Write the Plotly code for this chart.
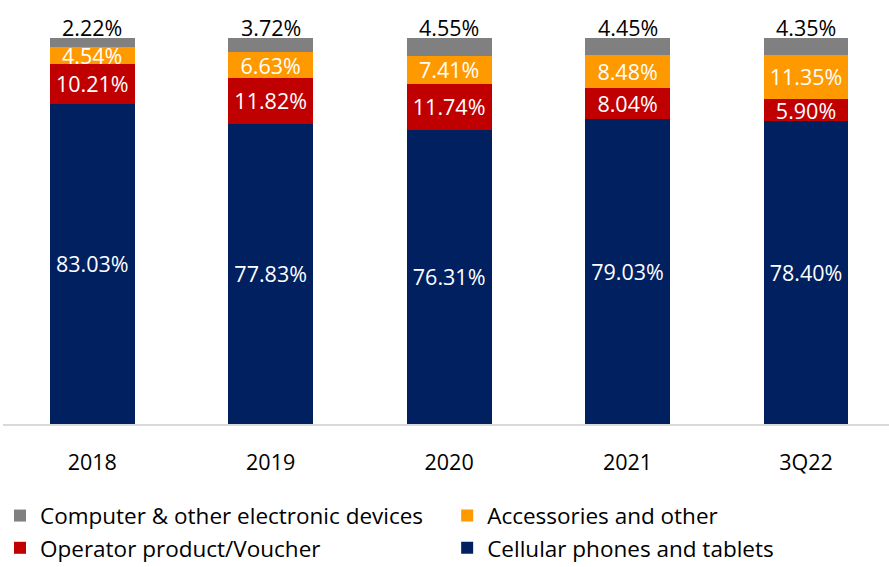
import plotly.graph_objects as go

categories = ["2018", "2019", "2020", "2021", "3Q22"]
cellular = [83.03, 77.83, 76.31, 79.03, 78.40]
operator = [10.21, 11.82, 11.74, 8.04, 5.90]
accessories = [4.54, 6.63, 7.41, 8.48, 11.35]
computer = [2.22, 3.72, 4.55, 4.45, 4.35]

xpos = list(range(len(categories)))
FONT = "Open Sans"
LSIZE = 21.5

def lbl(vals):
    return [f"{v:.2f}%" for v in vals]

fig = go.Figure()
series = [
    ("Cellular phones and tablets", cellular, "#002060", "white", "legend2"),
    ("Operator product/Voucher", operator, "#C00000", "white", "legend"),
    ("Accessories and other", accessories, "#FF9900", "white", "legend2"),
    ("Computer & other electronic devices", computer, "#808080", "black", "legend"),
]
for name, vals, color, tcolor, leg in series:
    is_top = name.startswith("Computer")
    fig.add_trace(go.Bar(
        x=xpos, y=vals, name=name, marker_color=color, marker_line_width=0,
        width=0.476, text=None if is_top else lbl(vals),
        textposition="none" if is_top else "inside",
        insidetextanchor="middle", constraintext="none",
        textfont=dict(color=tcolor, size=LSIZE, family=FONT),
        cliponaxis=False, hoverinfo="skip", legend=leg,
    ))

totals = [a + b + c + d for a, b, c, d in zip(cellular, operator, accessories, computer)]
for xi, tot, txt in zip(xpos, totals, lbl(computer)):
    fig.add_annotation(
        x=xi, y=tot, xref="x", yref="y", text=txt, showarrow=False,
        xanchor="center", yanchor="bottom", yshift=-6,
        font=dict(color="black", size=LSIZE, family=FONT),
    )

legend_common = dict(
    orientation="v", traceorder="reversed",
    xref="container", yref="container",
    xanchor="left", yanchor="top",
    font=dict(size=22.5, family=FONT, color="black"),
    itemclick=False, itemdoubleclick=False, tracegroupgap=0,
    bgcolor="rgba(0,0,0,0)",
)

fig.update_layout(
    barmode="stack",
    width=889, height=567,
    margin=dict(l=3, r=0, t=38, b=143, autoexpand=False),
    plot_bgcolor="white", paper_bgcolor="white",
    font=dict(family=FONT, size=LSIZE, color="black"),
    showlegend=True,
    legend=dict(x=0.0, y=0.128, **legend_common),
    legend2=dict(x=0.503, y=0.128, **legend_common),
    xaxis=dict(
        range=[-0.5, 4.465], tickvals=xpos, ticktext=categories,
        showline=True, linecolor="#D9D9D9", linewidth=1.5,
        showgrid=False, zeroline=False, ticks="", ticklabelstandoff=18,
        tickfont=dict(size=LSIZE, family=FONT, color="black"),
    ),
    yaxis=dict(range=[0, 100.02], visible=False, showgrid=False, zeroline=False),
)

fig.write_html("out.html")
